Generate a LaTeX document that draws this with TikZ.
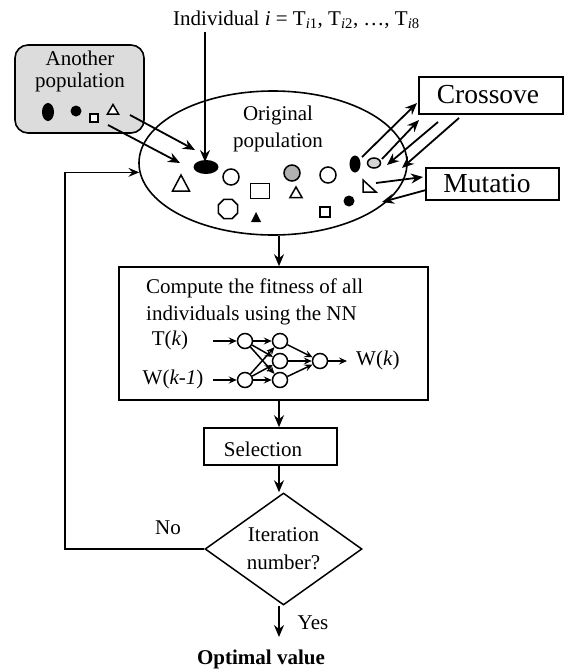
\documentclass[tikz,border=0pt]{standalone}
\usepackage{fontspec}
\setmainfont{Liberation Serif}
\usetikzlibrary{shapes.geometric,arrows.meta,calc}
\definecolor{popgray}{RGB}{220,220,220}
\definecolor{dotgray}{RGB}{178,178,178}
\definecolor{lightdot}{RGB}{212,212,212}

\begin{document}
\begin{tikzpicture}[x=1pt,y=-1pt,
  txt/.style={font=\fontsize{21}{26}\selectfont, inner sep=0pt, align=center},
  bigtxt/.style={font=\fontsize{27.5}{32}\selectfont, inner sep=0pt},
  box/.style={draw, line width=1.6pt, inner sep=0pt},
  arr/.style={line width=1.8pt, -{Stealth[length=12pt,width=10pt,inset=4pt]}},
  sarr/.style={line width=1.5pt, -{Stealth[length=8pt,width=7pt,inset=3pt]}},
  shp/.style={line width=1.5pt},
  neuron/.style={draw, circle, line width=1.5pt, minimum size=15pt, inner sep=0pt},
]
\useasboundingbox (0,0) rectangle (565,672);

% ---- header label and the incoming individual
\node[txt] (indiv) at (296.5,20) {Individual \textit{i} = T\textsubscript{\textit{i}1}, T\textsubscript{\textit{i}2}, …, T\textsubscript{\textit{i}8}};

% ---- another population
\node[box, rounded corners=13pt, fill=popgray, minimum width=129pt, minimum height=88pt] (other) at (79.5,89) {};
\node[txt, font=\fontsize{21}{22}\selectfont] (othertxt) at (80,71) {Another\\population};
\fill (48,112) ellipse [x radius=6, y radius=9];
\fill (76,111) circle [radius=5.5];
\draw[shp, fill=white] (90,114) rectangle (98,122);
\draw[shp, fill=white] (107.5,114) -- (118.5,114) -- (113,104.5) -- cycle;

% ---- original population
\node[draw, ellipse, line width=1.6pt, minimum width=268pt, minimum height=144pt, inner sep=0pt] (pop) at (273,163) {};
\node[txt, font=\fontsize{21}{27}\selectfont] (poptxt) at (278,128.5) {Original\\population};

% individuals inside the population
\fill (206,167) ellipse [x radius=12.5, y radius=7];
\draw[shp] (172.5,191) -- (189.5,191) -- (181,175) -- cycle;
\draw[shp] (231,177) circle [radius=8];
\draw[shp] (250.5,183.5) rectangle (269.5,198.5);
\draw[shp, fill=dotgray] (292,173) circle [radius=8];
\draw[shp] (290,197.5) -- (302,197.5) -- (296,187) -- cycle;
\draw[shp] (328,175) circle [radius=8];
\node[regular polygon, regular polygon sides=8, draw, line width=1.5pt, minimum size=21pt, inner sep=0pt] (octa) at (228,209) {};
\fill (251,222) -- (261,222) -- (256,212) -- cycle;
\draw[shp] (320,207) rectangle (330,217);
\fill (349,201) circle [radius=5.5];
\fill (355,164) ellipse [x radius=5.5, y radius=8.5];
\draw[shp, fill=lightdot] (374,163) ellipse [x radius=6.5, y radius=5];
\draw[shp] (363,180) -- (363,192) -- (376,192) -- cycle;

% ---- genetic operators
\node[box, minimum width=144pt, minimum height=37pt] (cross) at (491,95.5) {};
\node[bigtxt] (crosstxt) at (488,95) {Crossove};
\node[box, minimum width=133pt, minimum height=32pt] (mut) at (492.5,184) {};
\node[bigtxt] (muttxt) at (487,184) {Mutatio};

% connector end points
\coordinate (indivA) at (205,32);
\coordinate (indivB) at (205,162);
\coordinate (otherA1) at (130,115);
\coordinate (otherB1) at (195,150);
\coordinate (otherA2) at (108,125);
\coordinate (otherB2) at (180,163);
\coordinate (cxA1) at (362,157);
\coordinate (cxB1) at (417,103);
\coordinate (cxA2) at (382,159);
\coordinate (cxB2) at (419,120);
\coordinate (cxA3) at (438,122);
\coordinate (cxB3) at (387,165);
\coordinate (cxA4) at (459,118);
\coordinate (cxB4) at (402,168);
\coordinate (muA1) at (376,183);
\coordinate (muB1) at (423,177);
\coordinate (muA2) at (426,190);
\coordinate (muB2) at (382,202);

\draw[arr] (indivA) -- (indivB);
\draw[arr] (otherA1) -- (otherB1);
\draw[arr] (otherA2) -- (otherB2);
\draw[arr] (cxA1) -- (cxB1);
\draw[arr] (cxA2) -- (cxB2);
\draw[arr] (cxA3) -- (cxB3);
\draw[arr] (cxA4) -- (cxB4);
\draw[arr] (muA1) -- (muB1);
\draw[arr] (muA2) -- (muB2);

% ---- fitness evaluation with the neural network
\coordinate (axis) at (279,0);
\node[box, minimum width=309pt, minimum height=133pt] (fit) at (273.5,333.5) {};
\node[txt, font=\fontsize{21}{27}\selectfont, align=left, anchor=west] (fittxt) at (146,301.5) {Compute the fitness of all\\individuals using the NN};

\node[neuron] (i1) at (245,341) {};
\node[neuron] (i2) at (245,380) {};
\node[neuron] (h1) at (280,341) {};
\node[neuron] (h2) at (280,361) {};
\node[neuron] (h3) at (280,380) {};
\node[neuron] (o1) at (320,361) {};
\node[txt] (tk) at (170,340) {T(\textit{k})};
\node[txt] (wk1) at (173,379) {W(\textit{k-1})};
\node[txt, anchor=west] (wk) at (356,360) {W(\textit{k})};
\coordinate (tkA) at (213,341);
\coordinate (wkA) at (213,380);
\coordinate (outB) at (347,361);

\draw[sarr] (tkA) -- (i1);
\draw[sarr] (wkA) -- (i2);
\foreach \a in {i1,i2}
  \foreach \b in {h1,h2,h3}
    \draw[sarr] (\a) -- (\b);
\foreach \b in {h1,h2,h3}
  \draw[sarr] (\b) -- (o1);
\draw[sarr] (o1) -- (outB);

% ---- selection and loop test
\node[box, minimum width=133pt, minimum height=37pt] (sel) at (270.5,446.5) {};
\node[txt] (seltxt) at (263,449) {Selection};
\node[draw, diamond, line width=1.5pt, aspect=1.4, minimum width=157pt, minimum height=112pt, inner sep=0pt,
      font=\fontsize{21}{28}\selectfont, align=center] (iter) at (283.5,549) {Iteration\\number?};
\node[txt] (no) at (168,528) {No};
\node[txt] (yes) at (313,623) {Yes};
\node[txt, font=\bfseries\fontsize{21}{26}\selectfont] (opt) at (261,659) {Optimal value};
\coordinate (yesB) at (279,637);
\coordinate (loopx) at (65,0);

\draw[arr] (axis |- pop.south) -- (axis |- fit.north);
\draw[arr] (axis |- fit.south) -- (axis |- sel.north);
\draw[arr] (axis |- sel.south) -- (axis |- iter.north);
\draw[arr] (axis |- iter.south) -- (yesB);
\draw[line width=1.1pt, -{Stealth[length=11pt,width=9pt,inset=4pt]}]
  (iter.west) -- (loopx |- iter.west) -- (loopx |- pop.184) -- (pop.184);
\end{tikzpicture}
\end{document}
